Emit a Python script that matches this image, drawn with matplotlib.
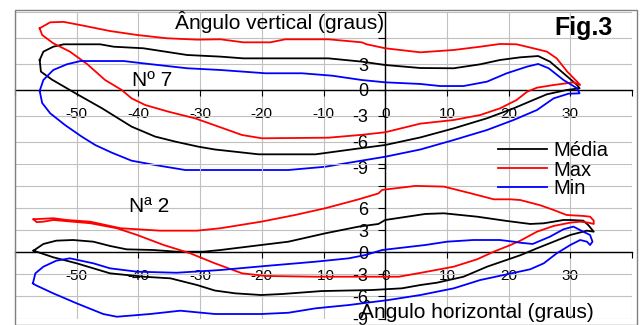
import matplotlib
matplotlib.use("Agg")
import matplotlib.pyplot as plt
from matplotlib.patches import Rectangle

plt.rcParams['font.family'] = ['Liberation Sans', 'DejaVu Sans']

# ---------------- data (horizontal angle x, vertical angle y) ----------------
# Panel "Nº 7" (top)
n7_max_x = [-56.0, -54.3, -52.1, -48.9, -44.6, -40.2, -35.4, -30.5, -26.7, -23.0, -18.6, -16.2, -9.2, -3.8, -3.0, 0.0,
            5.7, 11.1, 15.4, 18.6, 21.3, 24.0, 26.2, 27.8, 29.5, 31.1, 31.6,
            30.5, 27.3, 24.6, 23.0, 21.3, 18.6, 15.4, 11.1, 5.7, 0.0, -3.8, -9.2, -20.0, -23.2, -27.6, -30.8,
            -35.1, -38.9, -41.1, -42.7, -45.4, -48.3, -51.1, -53.8, -55.6, -56.0]
n7_max_y = [7.16, 7.85, 7.9, 7.46, 6.84, 6.38, 6.0, 5.84, 5.88, 5.53, 5.53, 5.88, 5.88, 5.53, 5.3, 4.84,
            4.37, 4.64, 5.02, 5.34, 5.30, 4.84, 4.45, 3.67, 2.13, 0.97, 0.58,
            0.89, 0.58, 0.27, -0.2, -1.16, -2.13, -2.9, -3.48, -3.9, -4.9, -5.2, -5.53, -5.6, -5.22, -4.1, -3.29,
            -2.52, -1.74, -0.97, 0.0, 1.16, 3.0, 4.45, 5.42, 6.38, 7.16]

n7_med_x = [-56.0, -55.4, -53.8, -52.1, -46.2, -44.0, -39.2, -32.1, -26.7, -23.0, -9.2, -3.8, 0.0, 5.7, 11.1, 15.4,
            18.6, 21.9, 24.8, 26.7, 28.9, 31.1, 31.5,
            29.4, 26.2, 24.0, 20.8, 16.5, 11.1, 5.7, 0.0, -4.9, -11.3, -20.5, -27.6, -30.3, -34.0, -37.3, -41.1,
            -45.9, -50.2, -54.0, -55.8, -56.0]
n7_med_y = [3.48, 4.45, 5.02, 5.3, 5.3, 5.02, 4.84, 4.06, 3.87, 3.67, 3.67, 3.29, 2.9, 2.55, 2.52, 2.98,
            3.48, 3.79, 3.94, 3.29, 1.94, 0.58, 0.2,
            0.0, -0.5, -1.16, -2.13, -3.28, -4.45, -5.5, -6.38, -6.84, -7.46, -7.46, -6.9, -6.57, -5.99, -5.4, -4.25,
            -2.12, -0.38, 1.2, 2.13, 3.48]

n7_min_x = [-56.0, -55.4, -53.8, -51.6, -49.4, -42.4, -39.2, -32.1, -26.7, -19.4, -13.5, -8.6, -3.8, 0.0, 5.7, 8.9,
            12.7, 16.5, 19.7, 23.0, 24.8, 26.5, 28.9, 31.1, 31.5,
            29.7, 27.3, 24.6, 20.8, 16.5, 11.1, 5.7, 0.0, -4.9, -9.7, -15.7, -27.6, -32.4, -37.3, -41.1, -44.3,
            -47.0, -49.2, -51.9, -54.3, -55.6, -56.0]
n7_min_y = [-0.1, 1.16, 2.32, 2.98, 3.36, 3.36, 3.09, 2.52, 2.32, 1.94, 1.94, 1.66, 1.16, 0.89, 0.7, 0.46,
            0.46, 0.97, 1.94, 2.71, 3.02, 2.52, 1.16, 0.2, -0.39,
            -0.43, -0.97, -2.32, -3.48, -4.64, -5.8, -6.9, -7.74, -8.32, -8.9, -9.28, -9.28, -9.28, -8.7, -8.2, -7.27,
            -6.38, -5.4, -4.06, -2.7, -1.5, -0.1]

# Panel "Nª 2" (bottom)
n2_max_x = [-57.0, -53.8, -51.6, -47.8, -42.9, -36.5, -30.5, -26.7, -20.1, -14.6, -9.7, -4.3, -1.1, -0.5, 4.9, 9.5,
            13.8, 17.6, 20.3, 21.9, 25.1, 27.3, 29.4, 32.1, 33.2, 33.8, 33.8,
            32.9, 31.6, 30.0, 27.3, 24.6, 21.9, 20.3, 17.6, 14.9, 11.1, 5.7, 2.2, -1.6, -11.3, -19.4, -23.2, -27.6,
            -31.6, -35.9, -40.2, -43.5, -47.8, -53.8, -55.4, -56.5, -57.0]
n2_max_y = [4.49, 4.63, 4.39, 4.16, 3.27, 2.94, 2.94, 3.27, 4.16, 5.07, 5.99, 7.2, 8.0, 8.48, 9.02, 8.93,
            8.03, 7.2, 7.2, 7.1, 6.4, 5.75, 5.07, 4.94, 4.84, 4.3, 3.85,
            4.03, 4.16, 4.03, 3.58, 2.8, 1.58, 0.99, 0.08, -0.95, -1.96, -2.8, -3.32, -3.32, -3.32, -3.22, -2.86, -1.5,
            -0.14, 0.99, 2.35, 3.27, 3.95, 4.39, 4.16, 4.1, 4.49]

n2_med_x = [-57.0, -55.4, -53.3, -50.6, -47.3, -44.6, -41.9, -37.6, -33.8, -29.5, -26.7, -20.1, -15.7, -9.7, -4.3,
            -1.1, 0.0, 6.5, 9.5, 14.9, 19.7, 23.5, 25.7, 28.9, 30.0, 32.1, 32.9, 33.8,
            32.7, 30.0, 27.3, 24.6, 21.9, 16.5, 12.7, 8.4, 5.7, 2.7, -2.2, -10.3, -16.7, -20.1, -24.3, -27.6,
            -30.5, -34.8, -39.2, -44.6, -47.3, -50.0, -53.8, -57.0]
n2_med_y = [0.22, 1.13, 1.58, 1.67, 1.44, 0.86, 0.4, 0.31, 0.08, 0.08, 0.31, 0.99, 1.44, 2.58, 3.49,
            3.85, 4.39, 5.21, 5.3, 4.84, 4.26, 3.85, 3.94, 4.39, 4.39, 4.3, 3.71, 2.8,
            2.94, 2.35, 1.44, 0.54, -0.4, -1.96, -3.32, -4.13, -4.45, -4.9, -5.13, -5.27, -5.67, -5.81, -5.58, -5.2,
            -4.45, -3.54, -3.32, -2.86, -2.18, -1.5, -0.68, 0.22]

n2_min_x = [-57.1, -56.7, -55.4, -53.3, -51.1, -47.3, -44.6, -40.2, -33.8, -26.7, -19.4, -11.3, -5.9, -3.2, -0.5,
            6.5, 10.0, 14.3, 18.6, 20.8, 21.9, 23.9, 26.7, 28.9, 30.5, 32.1, 33.2, 33.6, 33.2,
            32.7, 31.6, 30.0, 27.8, 25.7, 23.5, 19.2, 15.4, 11.1, 5.7, 0.5, -5.9, -11.3, -15.7, -20.1, -27.6,
            -33.2, -38.1, -43.5, -45.7, -50.0, -53.8, -56.7, -57.1]
n2_min_y = [-4.22, -2.86, -1.96, -1.14, -0.82, -1.5, -2.18, -2.64, -2.78, -2.41, -1.86, -1.28, -0.82, -0.37, 0.31,
            0.99, 1.44, 1.67, 1.67, 1.44, 1.3, 1.13, 2.12, 3.13, 3.49, 2.8, 2.35, 1.44, 0.99,
            1.44, 1.67, 0.99, -0.14, -1.5, -2.31, -3.09, -3.77, -4.9, -5.81, -6.49, -7.17, -7.62, -8.22, -8.39, -8.39,
            -7.94, -8.39, -8.76, -8.39, -6.94, -5.58, -4.45, -4.22]

series_labels = ["Média", "Max", "Min"]
series_colors = ["black", "#ff0000", "#0000ff"]

x_ticks = list(range(-60, 41, 10))
x_ticklabels = [str(v) if -50 <= v <= 30 else "" for v in x_ticks]
top_yticks = list(range(-9, 10, 3))
top_yticklabels = [str(v) if v <= 3 else "" for v in top_yticks]
bot_yticks = list(range(-9, 13, 3))
bot_yticklabels = [str(v) if v <= 6 else "" for v in bot_yticks]

# ---------------- figure ----------------
W, H = 641, 325
fig = plt.figure(figsize=(W / 100, H / 100), dpi=100)
fig.patch.set_facecolor("white")


def px_axes(left, top, right, bottom):
    return fig.add_axes([left / W, 1 - bottom / H, (right - left) / W, (bottom - top) / H])


ax1 = px_axes(15, 12.4, 632, 167.6)
ax2 = px_axes(15, 164, 632, 318.5)

panels = [
    (ax1, (-9, 9), top_yticks, top_yticklabels,
     [(n7_med_x, n7_med_y), (n7_max_x, n7_max_y), (n7_min_x, n7_min_y)]),
    (ax2, (-9, 12), bot_yticks, bot_yticklabels,
     [(n2_med_x, n2_med_y), (n2_max_x, n2_max_y), (n2_min_x, n2_min_y)]),
]

legend_handles = []
for i, (ax, ylim, yt, ytl, data) in enumerate(panels):
    ax.patch.set_visible(False)
    ax.set_xlim(-60, 40)
    ax.set_ylim(*ylim)
    ax.set_xticks(x_ticks)
    ax.set_xticklabels(x_ticklabels)
    ax.set_yticks(yt)
    ax.set_yticklabels(ytl)
    ax.grid(True, color="#c0c0c0", lw=0.8)
    ax.set_axisbelow(True)
    for s in ("top", "right"):
        ax.spines[s].set_visible(False)
    ax.spines["left"].set_position(("data", 0))
    ax.spines["bottom"].set_position(("data", 0))
    for s in ("left", "bottom"):
        ax.spines[s].set_color("black")
        ax.spines[s].set_linewidth(1.0)
    ax.tick_params(axis="x", direction="out", length=4, width=0.8, pad=8, labelsize=11)
    ax.tick_params(axis="y", direction="out", length=5, width=0.8, pad=7, labelsize=13)
    ax.axvline(-60, color="black", lw=1.2, zorder=2)
    for (xs, ys), lab, col in zip(data, series_labels, series_colors):
        ln, = ax.plot(xs, ys, color=col, lw=1.3, label=lab, clip_on=False, zorder=3)
        if i == 0:
            legend_handles.append(ln)

# chart border
fig.add_artist(Rectangle((15 / W, 0), (637 - 15) / W, 1 - 10 / H, transform=fig.transFigure,
                         fill=False, edgecolor="#808080", lw=1.0))

fig.text(280 / W, 1 - 22 / H, "Ângulo vertical (graus)", ha="center", va="center", fontsize=15)
fig.text(583 / W, 1 - 28 / H, "Fig.3", ha="center", va="center", fontsize=18, fontweight="bold")
fig.text(152 / W, 1 - 80 / H, "Nº 7", ha="center", va="center", fontsize=15)
fig.text(149 / W, 1 - 207 / H, "Nª 2", ha="center", va="center", fontsize=15)
fig.text(477 / W, 1 - 311 / H, "Ângulo horizontal (graus)", ha="center", va="center", fontsize=15)

fig.legend(handles=legend_handles, labels=series_labels, loc="center left",
           bbox_to_anchor=(498 / W, 1 - 170 / H), frameon=False, fontsize=14.5,
           handlelength=2.45, handletextpad=0.3, labelspacing=0.0, borderpad=0,
           borderaxespad=0)

fig.savefig("out.png", dpi=100)
